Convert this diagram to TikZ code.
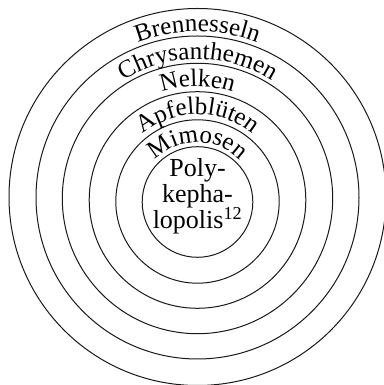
\documentclass[tikz,border=0pt]{standalone}
\usepackage{fontspec}
\setmainfont{Liberation Serif}
\usetikzlibrary{decorations.text,calc}
\tikzset{
  ring/.style={draw=black!90, line width=1pt},
  arclabel/.style={decorate, decoration={text along path, text align=center, text={#1}}},
  centertext/.style={font=\fontsize{26}{27}\selectfont, anchor=base, inner sep=0pt}
}
\newcommand{\arcfont}{\fontsize{25}{27}\selectfont}
\begin{document}
\begin{tikzpicture}[x=1pt,y=1pt]
\useasboundingbox (0,0) rectangle (383,385);
\coordinate (c6) at (197.5,188);
\coordinate (c5) at (197.5,187.5);
\coordinate (c4) at (197.5,186.5);
\coordinate (c3) at (197.5,185);
\coordinate (c2) at (197.5,183.5);
\coordinate (c1) at (197.5,183);
\draw[ring] (c6) circle[radius=188.5pt];
\draw[ring] (c5) circle[radius=161.5pt];
\draw[ring] (c4) circle[radius=135.2pt];
\draw[ring] (c3) circle[radius=108.3pt];
\draw[ring] (c2) circle[radius=81.7pt];
\draw[ring] (c1) circle[radius=55.3pt];
\path[arclabel={|\arcfont|Brennesseln}] ($(c5)+(180:166)$) arc[start angle=180, end angle=0, radius=166pt];
\path[arclabel={|\arcfont|Chrysanthemen}] ($(c4)+(180:139.5)$) arc[start angle=180, end angle=0, radius=139.5pt];
\path[arclabel={|\arcfont|Nelken}] ($(c3)+(180:113.5)$) arc[start angle=180, end angle=0, radius=113.5pt];
\path[arclabel={|\arcfont|Apfelblüten}] ($(c2)+(180:87)$) arc[start angle=180, end angle=0, radius=87pt];
\path[arclabel={|\arcfont|Mimosen}] ($(c1)+(180:59.5)$) arc[start angle=180, end angle=0, radius=59.5pt];
\node[centertext] (l1) at (197.5,208) {Poly-};
\node[centertext] (l2) at (197.5,182) {kepha-};
\node[centertext] (l3) at (197.5,156) {lopolis\textsuperscript{12}};
\end{tikzpicture}
\end{document}
